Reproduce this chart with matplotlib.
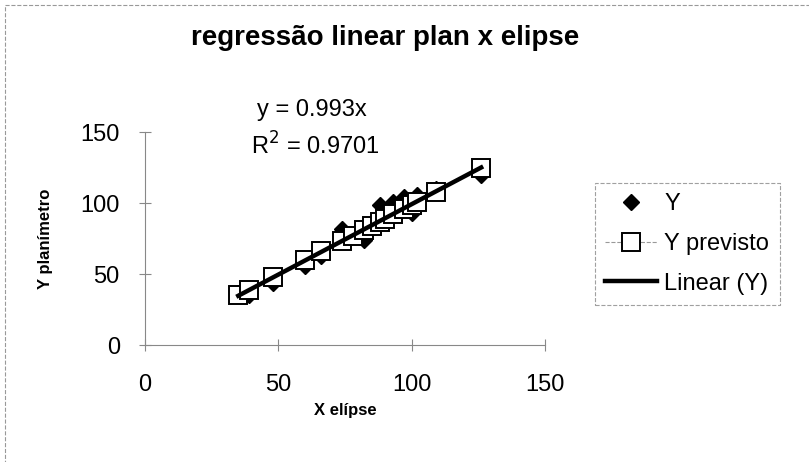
import matplotlib.pyplot as plt
import numpy as np

plt.rcParams['font.family'] = ['Liberation Sans', 'DejaVu Sans']

# Data
x_elipse = [35, 39, 48, 60, 66, 74, 78, 82, 85, 88, 90, 93, 97, 100, 102, 109, 126]
y_plan = [37, 35, 44, 56, 63, 82, 77, 74, 86, 99, 88, 101, 104, 93, 106, 110, 120]
y_previsto = [35, 39, 48, 60, 66, 73, 77, 81, 84, 87, 89, 92, 96, 99, 101, 108, 125]
slope = 0.993
r2 = 0.9701

fig = plt.figure(figsize=(8.09, 4.62), dpi=100)
ax = fig.add_axes([0.179, 0.253, 0.495, 0.461])

# Y previsto: thin gray dashed line with open squares
ax.plot(x_elipse, y_previsto, linestyle='--', color='#999999', linewidth=0.8,
        marker='s', markersize=13, markerfacecolor='white',
        markeredgecolor='black', markeredgewidth=1.4, label='Y previsto', zorder=3)
# Y: black diamonds
ax.plot(x_elipse, y_plan, linestyle='none', marker='D', markersize=8,
        color='black', label='Y', zorder=2)
# trendline
xt = np.array([min(x_elipse), max(x_elipse)])
ax.plot(xt, slope * xt, color='black', linewidth=3.2, label='Linear (Y)', zorder=4)

ax.set_xlim(0, 150)
ax.set_ylim(0, 150)
ax.set_xticks([0, 50, 100, 150])
ax.set_yticks([0, 50, 100, 150])
ax.tick_params(direction='inout', length=8, color='#888888', labelsize=17)
ax.tick_params(axis='x', pad=17)
ax.tick_params(axis='y', pad=14)
for s in ['top', 'right']:
    ax.spines[s].set_visible(False)
for s in ['left', 'bottom']:
    ax.spines[s].set_color('#888888')
    ax.spines[s].set_linestyle((0, (6, 1)))

ax.set_xlabel('X elípse', fontsize=12, fontweight='bold', labelpad=5)
ax.set_ylabel('Y planímetro', fontsize=12, fontweight='bold', labelpad=20)

fig.text(0.476, 0.918, 'regressão linear plan x elipse', ha='center', va='center',
         fontsize=20, fontweight='bold')
fig.text(0.385, 0.762, f'y = {slope}x', ha='center', va='center', fontsize=17)
fig.text(0.39, 0.685, f'R$^2$ = {r2}', ha='center', va='center', fontsize=17)

h, l = ax.get_legend_handles_labels()
order = [1, 0, 2]
leg = fig.legend([h[i] for i in order], [l[i] for i in order],
                 loc='center left', bbox_to_anchor=(0.735, 0.472),
                 fontsize=17, frameon=True, fancybox=False,
                 handlelength=2.2, handletextpad=0.3, borderpad=0.45, labelspacing=0.75,
                 borderaxespad=0)
leg.get_frame().set_edgecolor('#888888')
leg.get_frame().set_linestyle('--')
leg.get_frame().set_linewidth(0.8)

# dashed outer chart border
border = plt.Rectangle((0.006, -0.02), 1.1, 1.01, transform=fig.transFigure,
                       fill=False, edgecolor='#999999', linestyle='--', linewidth=0.8)
fig.add_artist(border)

fig.savefig('out.png', dpi=100)
